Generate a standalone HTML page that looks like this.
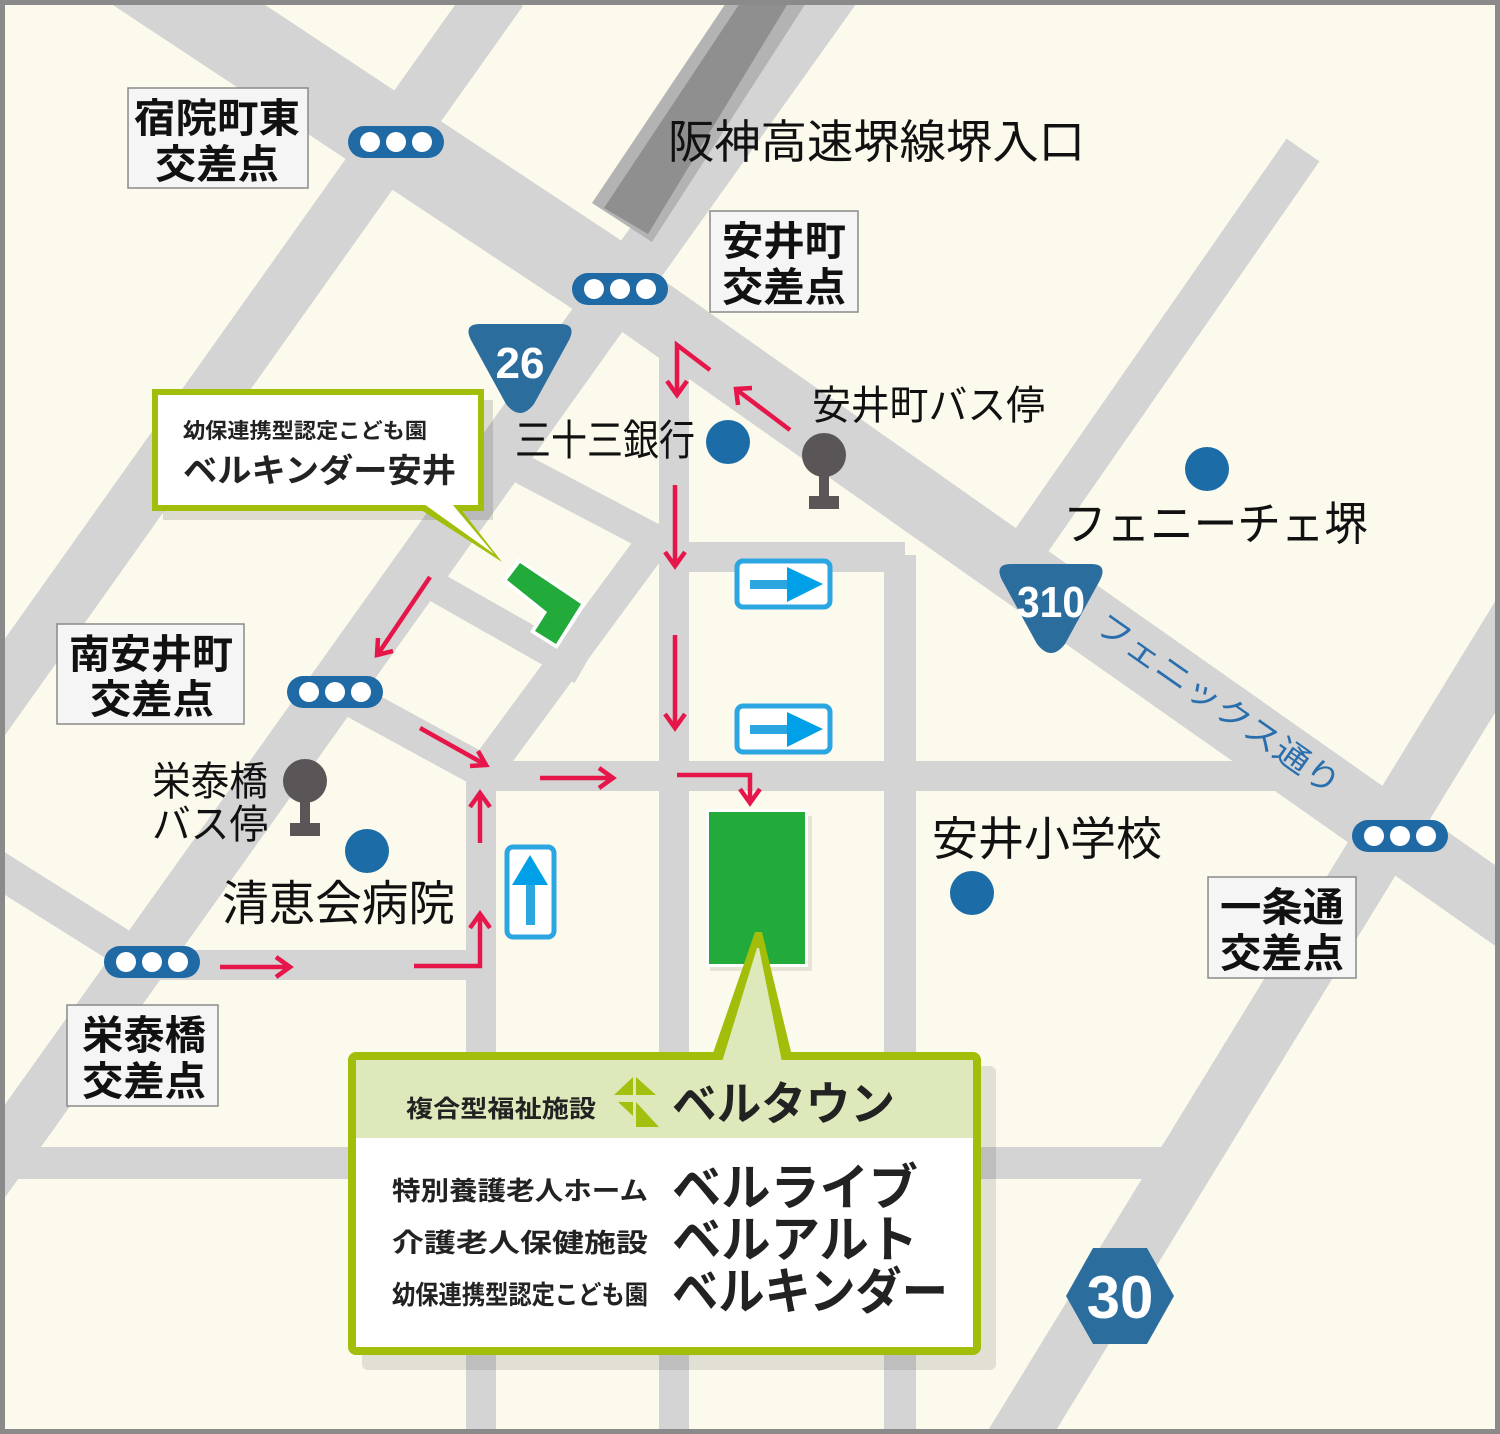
<!DOCTYPE html>
<html><head><meta charset="utf-8">
<style>
html,body{margin:0;padding:0;background:#fff}
svg{display:block}
text{font-family:"Liberation Sans","Noto Sans CJK JP",sans-serif}
</style></head>
<body>
<svg width="1500" height="1434" viewBox="0 0 1500 1434" xmlns="http://www.w3.org/2000/svg">
<rect x="0" y="0" width="1500" height="1434" fill="#fcfaec"/>
<g stroke="#d4d4d4" fill="none" stroke-linecap="butt">
  <line x1="0" y1="-120" x2="620" y2="290" stroke-width="84"/>
  <line x1="600" y1="276" x2="1530" y2="930" stroke-width="66"/>
  <line x1="500" y1="-10" x2="-20" y2="722" stroke-width="56"/>
  <line x1="840" y1="-20" x2="-30" y2="1200" stroke-width="54"/>
  <line x1="655" y1="540" x2="478" y2="780" stroke-width="34"/>
  <line x1="495" y1="455" x2="672" y2="548" stroke-width="30"/>
  <line x1="420" y1="578" x2="582" y2="670" stroke-width="30"/>
  <line x1="330" y1="688" x2="495" y2="778" stroke-width="34"/>
  <line x1="-20" y1="858" x2="155" y2="968" stroke-width="36"/>
  <line x1="481" y1="760" x2="481" y2="1434" stroke-width="30"/>
  <line x1="674" y1="320" x2="674" y2="1434" stroke-width="30"/>
  <line x1="900" y1="555" x2="900" y2="1434" stroke-width="32"/>
  <line x1="466" y1="776" x2="1290" y2="776" stroke-width="30"/>
  <line x1="660" y1="557" x2="905" y2="557" stroke-width="30"/>
  <line x1="140" y1="965" x2="496" y2="965" stroke-width="30"/>
  <line x1="0" y1="1163" x2="1190" y2="1163" stroke-width="32"/>
  <line x1="1303" y1="150" x2="1025" y2="550" stroke-width="40"/>
  <line x1="1530" y1="600" x2="1010" y2="1450" stroke-width="58"/>
</g>
<polygon points="592,203 652,242 808,0 728,0" fill="#b3b3b3"/>
<polygon points="604,208 648,234 790,0 742,0" fill="#8f8f8f"/>

<rect x="2.5" y="2.5" width="1495" height="1429" fill="none" stroke="#8a8a8a" stroke-width="5"/>

<g fill="#f5f5f5" stroke="#8a8a8a" stroke-width="1.5">
  <rect x="128" y="88" width="180" height="100"/>
  <rect x="710" y="211" width="148" height="101"/>
  <rect x="57" y="624" width="187" height="100"/>
  <rect x="67" y="1005" width="151" height="101"/>
  <rect x="1208" y="877" width="148" height="101"/>
</g>
<g font-weight="bold" font-size="40" fill="#111">
  <text x="134" y="132" textLength="166" lengthAdjust="spacingAndGlyphs">宿院町東</text>
  <text x="155" y="178" textLength="124" lengthAdjust="spacingAndGlyphs">交差点</text>
  <text x="722" y="255" textLength="124" lengthAdjust="spacingAndGlyphs">安井町</text>
  <text x="722" y="301" textLength="124" lengthAdjust="spacingAndGlyphs">交差点</text>
  <text x="69" y="668" textLength="164" lengthAdjust="spacingAndGlyphs">南安井町</text>
  <text x="90" y="713" textLength="124" lengthAdjust="spacingAndGlyphs">交差点</text>
  <text x="82" y="1049" textLength="124" lengthAdjust="spacingAndGlyphs">栄泰橋</text>
  <text x="82" y="1095" textLength="124" lengthAdjust="spacingAndGlyphs">交差点</text>
  <text x="1220" y="921" textLength="124" lengthAdjust="spacingAndGlyphs">一条通</text>
  <text x="1220" y="967" textLength="124" lengthAdjust="spacingAndGlyphs">交差点</text>
</g>

<g>
  <g transform="translate(348,126)"><rect width="96" height="32" rx="16" fill="#1f69a4"/><circle cx="22" cy="16" r="10" fill="#fff"/><circle cx="48" cy="16" r="10" fill="#fff"/><circle cx="74" cy="16" r="10" fill="#fff"/></g>
  <g transform="translate(572,273)"><rect width="96" height="32" rx="16" fill="#1f69a4"/><circle cx="22" cy="16" r="10" fill="#fff"/><circle cx="48" cy="16" r="10" fill="#fff"/><circle cx="74" cy="16" r="10" fill="#fff"/></g>
  <g transform="translate(287,676)"><rect width="96" height="32" rx="16" fill="#1f69a4"/><circle cx="22" cy="16" r="10" fill="#fff"/><circle cx="48" cy="16" r="10" fill="#fff"/><circle cx="74" cy="16" r="10" fill="#fff"/></g>
  <g transform="translate(104,946)"><rect width="96" height="32" rx="16" fill="#1f69a4"/><circle cx="22" cy="16" r="10" fill="#fff"/><circle cx="48" cy="16" r="10" fill="#fff"/><circle cx="74" cy="16" r="10" fill="#fff"/></g>
  <g transform="translate(1352,820)"><rect width="96" height="32" rx="16" fill="#1f69a4"/><circle cx="22" cy="16" r="10" fill="#fff"/><circle cx="48" cy="16" r="10" fill="#fff"/><circle cx="74" cy="16" r="10" fill="#fff"/></g>
</g>

<path d="M480,324 L560,324 Q578,324 568,342 L534,404 Q520,422 506,404 L472,342 Q462,324 480,324 Z" fill="#2b6e9e"/>
<text x="520" y="378" text-anchor="middle" font-size="44" font-weight="bold" fill="#fff">26</text>
<path d="M1011,564 L1091,564 Q1109,564 1099,582 L1065,644 Q1051,662 1037,644 L1003,582 Q993,564 1011,564 Z" fill="#2b6e9e"/>
<text x="1051" y="617" text-anchor="middle" font-size="44" font-weight="bold" fill="#fff" textLength="68" lengthAdjust="spacingAndGlyphs">310</text>
<polygon points="1093,1248 1147,1248 1174,1296 1147,1344 1093,1344 1066,1296" fill="#2b6e9e"/>
<text x="1120" y="1318" text-anchor="middle" font-size="60" font-weight="bold" fill="#fff">30</text>

<g fill="#111">
  <text x="668" y="158" font-size="46" textLength="417" lengthAdjust="spacingAndGlyphs">阪神高速堺線堺入口</text>
  <text x="515" y="455" font-size="42" textLength="180" lengthAdjust="spacingAndGlyphs">三十三銀行</text>
  <text x="812" y="419" font-size="40" textLength="233" lengthAdjust="spacingAndGlyphs">安井町バス停</text>
  <text x="1063" y="540" font-size="46" textLength="305" lengthAdjust="spacingAndGlyphs">フェニーチェ堺</text>
  <text x="932" y="855" font-size="46" textLength="230" lengthAdjust="spacingAndGlyphs">安井小学校</text>
  <text x="152" y="795" font-size="40" textLength="116" lengthAdjust="spacingAndGlyphs">栄泰橋</text>
  <text x="152" y="838" font-size="40" textLength="116" lengthAdjust="spacingAndGlyphs">バス停</text>
  <text x="222" y="920" font-size="48" textLength="233" lengthAdjust="spacingAndGlyphs">清恵会病院</text>
</g>
<text transform="translate(1093,630) rotate(35)" font-size="32" fill="#2a6fad" textLength="290" lengthAdjust="spacingAndGlyphs">フェニックス通り</text>

<g fill="#1c6ca7">
  <circle cx="728" cy="442" r="22"/>
  <circle cx="1207" cy="469" r="22"/>
  <circle cx="367" cy="851" r="22"/>
  <circle cx="972" cy="893" r="22"/>
</g>
<g fill="#5a5657">
  <circle cx="824" cy="455" r="22"/><rect x="819" y="470" width="10" height="30"/><rect x="809" y="496" width="30" height="13"/>
  <circle cx="305" cy="781" r="22"/><rect x="300" y="796" width="10" height="30"/><rect x="290" y="823" width="30" height="13"/>
</g>

<g>
  <rect x="737" y="561" width="93" height="46" rx="6" fill="#fff" stroke="#2ca6e0" stroke-width="5"/>
  <rect x="750" y="580" width="40" height="9" fill="#2ca6e0"/><polygon points="787,567 823,584 787,602" fill="#00a0e9"/>
  <rect x="737" y="706" width="93" height="46" rx="6" fill="#fff" stroke="#2ca6e0" stroke-width="5"/>
  <rect x="750" y="725" width="40" height="9" fill="#2ca6e0"/><polygon points="787,712 823,729 787,747" fill="#00a0e9"/>
  <rect x="507" y="847" width="47" height="90" rx="6" fill="#fff" stroke="#2ca6e0" stroke-width="5"/>
  <rect x="526" y="880" width="9" height="45" fill="#2ca6e0"/><polygon points="512,885 530,855 548,885" fill="#00a0e9"/>
</g>

<g stroke="#e6154a" stroke-width="4.5" fill="none" stroke-linejoin="miter">
  <polyline points="710,370 677,345 677,395"/><polyline points="667,381 677,395 687,381"/>
  <line x1="790" y1="430" x2="737" y2="390"/><polyline points="738,405 736,389 752,388"/>
  <line x1="675" y1="485" x2="675" y2="566"/><polyline points="665,552 675,566 685,552"/>
  <line x1="675" y1="635" x2="675" y2="728"/><polyline points="665,714 675,728 685,714"/>
  <line x1="430" y1="577" x2="378" y2="654"/><polyline points="378,638 377,655 393,651"/>
  <line x1="420" y1="728" x2="486" y2="765"/><polyline points="470,766 486,765 478,751"/>
  <line x1="540" y1="778" x2="613" y2="778"/><polyline points="599,768 613,778 599,788"/>
  <polyline points="677,775 750,775 750,803"/><polyline points="740,789 750,803 760,789"/>
  <line x1="480" y1="843" x2="480" y2="793"/><polyline points="470,807 480,793 490,807"/>
  <line x1="220" y1="967" x2="290" y2="967"/><polyline points="276,957 290,967 276,977"/>
  <polyline points="414,966 480,966 480,914"/><polyline points="470,928 480,914 490,928"/>
</g>

<rect x="710" y="816" width="102" height="155" fill="#d9d6c8" opacity="0.6"/>
<rect x="706" y="809" width="102" height="158" fill="#fff"/>
<rect x="709" y="812" width="96" height="152" fill="#22aa3a"/>
<polygon points="502,581 518,558 586,604 557,649 530,632 542,613" fill="#fff"/>
<polygon points="507,580 520,563 581,604 556,644 535,631 547,612" fill="#22aa3a"/>

<rect x="163" y="400" width="330" height="120" fill="#000" opacity="0.12"/>
<polygon points="418,508 460,508 502,562" fill="#a3be0a"/>
<rect x="155" y="392" width="326" height="116" fill="#fff" stroke="#a3be0a" stroke-width="6"/>
<polygon points="424,504 452,504 494,554" fill="#fff"/>
<text x="183" y="438" font-size="21" font-weight="bold" fill="#222" textLength="244" lengthAdjust="spacingAndGlyphs">幼保連携型認定こども園</text>
<text x="183" y="482" font-size="33" font-weight="bold" fill="#222" textLength="273" lengthAdjust="spacingAndGlyphs">ベルキンダー安井</text>

<rect x="362" y="1066" width="634" height="304" rx="6" fill="#000" opacity="0.1"/>
<polygon points="712,1056 792,1056 762,932 755,932" fill="#a3be0a"/>
<rect x="352" y="1056" width="625" height="295" rx="4" fill="#fff" stroke="#a3be0a" stroke-width="8"/>
<rect x="356" y="1060" width="617" height="78" fill="#dde9bb"/>
<polygon points="722,1062 782,1062 759,948 757,948" fill="#dde9bb"/>
<polygon points="633,1077 614,1095 633,1095" fill="#a3c00f"/>
<polygon points="636,1077 636,1095 656,1095" fill="#a3c00f"/>
<polygon points="618,1102 633,1102 633,1116" fill="#a3c00f"/>
<polygon points="636,1102 636,1127 659,1127" fill="#a3c00f"/>
<text x="406" y="1117" font-size="24" font-weight="bold" fill="#222" textLength="190" lengthAdjust="spacingAndGlyphs">複合型福祉施設</text>
<text x="672" y="1120" font-size="46" font-weight="bold" fill="#222" textLength="223" lengthAdjust="spacingAndGlyphs">ベルタウン</text>
<g font-weight="bold" fill="#222">
  <text x="392" y="1200" font-size="26" textLength="256" lengthAdjust="spacingAndGlyphs">特別養護老人ホーム</text>
  <text x="392" y="1252" font-size="26" textLength="256" lengthAdjust="spacingAndGlyphs">介護老人保健施設</text>
  <text x="392" y="1304" font-size="26" textLength="256" lengthAdjust="spacingAndGlyphs">幼保連携型認定こども園</text>
  <text x="672" y="1205" font-size="50" textLength="246" lengthAdjust="spacingAndGlyphs">ベルライブ</text>
  <text x="672" y="1257" font-size="50" textLength="246" lengthAdjust="spacingAndGlyphs">ベルアルト</text>
  <text x="672" y="1309" font-size="50" textLength="276" lengthAdjust="spacingAndGlyphs">ベルキンダー</text>
</g>
</svg>
</body></html>
